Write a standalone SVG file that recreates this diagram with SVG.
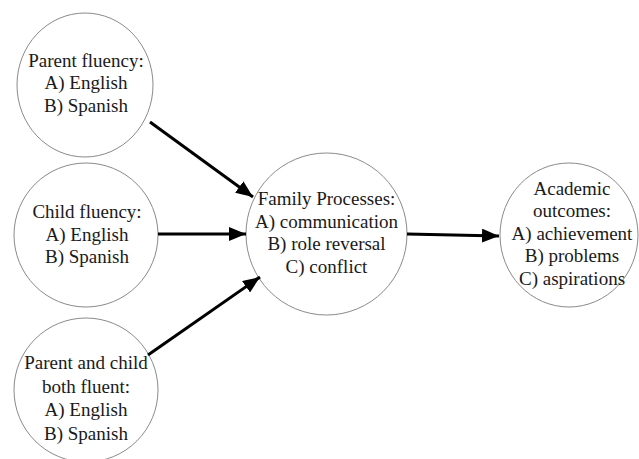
<svg xmlns="http://www.w3.org/2000/svg" width="639" height="459" viewBox="0 0 639 459">
<style>
.node ellipse{fill:#fff;stroke:#8a8a8a;stroke-width:1}
.node text{font-family:"Liberation Serif","Times New Roman",serif;font-size:19px;fill:#1a1a1a;text-anchor:middle}
.conn line{stroke:#000;stroke-width:3}
</style>
<defs>
<marker id="ah" markerUnits="userSpaceOnUse" markerWidth="18" markerHeight="14" refX="17" refY="7" orient="auto">
<path d="M0,0 L17,7 L0,14 z" fill="#000"/>
</marker>
</defs>
<rect width="639" height="459" fill="#fff"/>
<g id="n-parent" class="node">
<ellipse cx="85" cy="85" rx="68" ry="72"/>
<text x="86" y="67">Parent fluency:</text>
<text x="86" y="89">A) English</text>
<text x="86" y="112">B) Spanish</text>
</g>
<g id="n-child" class="node">
<ellipse cx="86" cy="235" rx="72" ry="72"/>
<text x="87" y="218">Child fluency:</text>
<text x="87" y="241">A) English</text>
<text x="87" y="263">B) Spanish</text>
</g>
<g id="n-both" class="node">
<ellipse cx="86" cy="390" rx="72" ry="72"/>
<text x="86" y="369">Parent and child</text>
<text x="86" y="393">both fluent:</text>
<text x="86" y="416">A) English</text>
<text x="86" y="440">B) Spanish</text>
</g>
<g id="n-family" class="node">
<ellipse cx="326.5" cy="234" rx="80.5" ry="81"/>
<text x="326.5" y="205">Family Processes:</text>
<text x="326.5" y="228">A) communication</text>
<text x="326.5" y="250">B) role reversal</text>
<text x="326.5" y="273">C) conflict</text>
</g>
<g id="n-academic" class="node">
<ellipse cx="569" cy="235" rx="69" ry="72"/>
<text x="572" y="195">Academic</text>
<text x="572" y="217">outcomes:</text>
<text x="572" y="240">A) achievement</text>
<text x="572" y="262">B) problems</text>
<text x="572" y="285">C) aspirations</text>
</g>
<g id="connectors" class="conn">
<line x1="150" y1="122" x2="253" y2="197" marker-end="url(#ah)"/>
<line x1="158" y1="234" x2="246" y2="234" marker-end="url(#ah)"/>
<line x1="148" y1="355" x2="260" y2="277" marker-end="url(#ah)"/>
<line x1="407" y1="234" x2="499" y2="236" marker-end="url(#ah)"/>
</g>
</svg>
